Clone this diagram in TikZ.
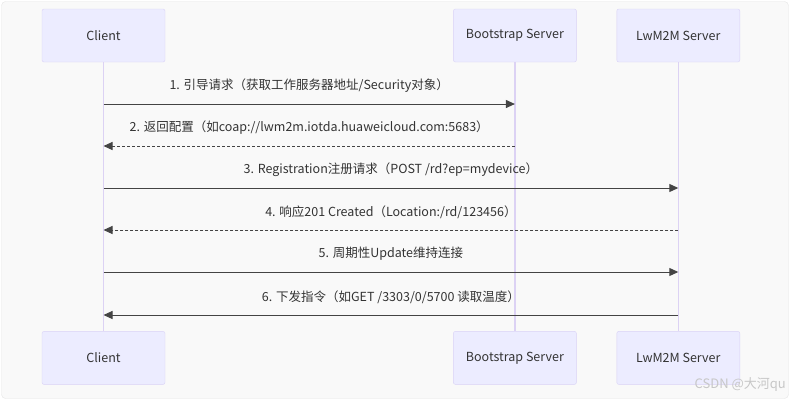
\documentclass[tikz,border=0pt]{standalone}
\usepackage{fontspec}
\setmainfont{Noto Sans CJK SC}
\usetikzlibrary{positioning, arrows.meta}
\definecolor{actfill}{HTML}{ECECFF}
\definecolor{actline}{HTML}{D9D2F6}
\definecolor{lifeline}{HTML}{DCD2F4}
\definecolor{msgline}{HTML}{444444}
\definecolor{txt}{HTML}{333333}
\definecolor{bgfill}{HTML}{F9F9F9}

\begin{document}
\begin{tikzpicture}[x=1pt, y=-1pt, >={Triangle[length=9pt, width=8pt]}, node distance = 269pt and 288pt,
    actor/.style = {draw=actline, fill=actfill, rounded corners=2pt, minimum width=123pt, minimum height=53pt,
                    text=txt, font=\fontsize{12.5}{14}\selectfont},
    life/.style = {draw=lifeline, line width=1.5pt},
    msg/.style = {draw=msgline, line width=1pt},
    reply/.style = {msg, dash pattern=on 3pt off 2pt},
    lbl/.style = {midway, yshift=18pt, inner sep=0pt, text=txt, font=\fontsize{12.5}{14}\selectfont}]
  \useasboundingbox (0,0) rectangle (790,400);
  \draw[draw=black!10, fill=bgfill, rounded corners=4pt] (1.5,1.5) rectangle (788.5,398.5);

  % participants, top and bottom
  \node[actor] (client) at (103.5,35.5) {Client};
  \node[actor] (bs) [right = of client] {Bootstrap Server};
  \node[actor] (lw) [right = 40pt of bs] {LwM2M Server};
  \node[actor] (client2) [below = of client] {Client};
  \node[actor] (bs2) [below = of bs] {Bootstrap Server};
  \node[actor] (lw2) [below = of lw] {LwM2M Server};

  \draw[life] (client) -- (client2);
  \draw[life] (bs) -- (bs2);
  \draw[life] (lw) -- (lw2);

  % message rows on the lifelines
  \foreach \y [count=\i] in {104,146,188,230,272,315} {
    \coordinate (c\i) at (client |- 0,\y);
    \coordinate (b\i) at (bs |- 0,\y);
    \coordinate (l\i) at (lw |- 0,\y);
  }

  \path[->]
    (c1) edge [msg] node [lbl] {1. 引导请求（获取工作服务器地址/Security对象）} (b1)
    (b2) edge [reply] node [lbl] {2. 返回配置（如coap://lwm2m.iotda.huaweicloud.com:5683）} (c2)
    (c3) edge [msg] node [lbl] {3. Registration注册请求（POST /rd?ep=mydevice）} (l3)
    (l4) edge [reply] node [lbl] {4. 响应201 Created（Location:/rd/123456）} (c4)
    (c5) edge [msg] node [lbl] {5. 周期性Update维持连接} (l5)
    (l6) edge [msg] node [lbl] {6. 下发指令（如GET /3303/0/5700 读取温度）} (c6)
  ;

  \node[anchor=east, inner sep=0pt, text=black!22, font=\fontsize{13}{15}\selectfont] (wm) at (786,385) {CSDN @大河qu};
\end{tikzpicture}
\end{document}
